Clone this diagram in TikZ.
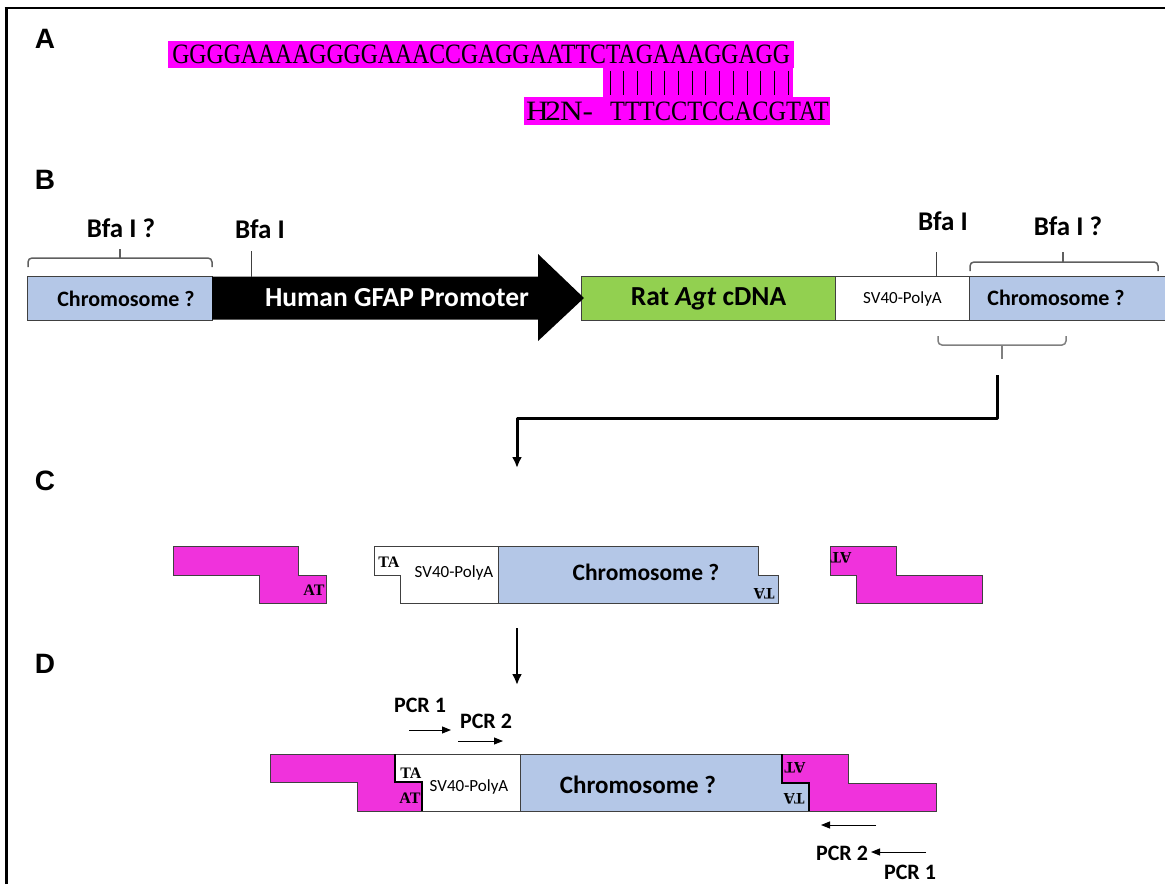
\documentclass[tikz,border=0pt]{standalone}
\usepackage{fontspec}
\newfontfamily\calib{Carlito}
\newfontfamily\arialf{Liberation Sans}
\newfontfamily\timesf{Liberation Serif}
\usetikzlibrary{arrows.meta}
\definecolor{magA}{RGB}{255,0,255}
\definecolor{magC}{RGB}{240,50,220}
\definecolor{chromblue}{RGB}{180,199,231}
\definecolor{agtgreen}{RGB}{146,208,80}
\definecolor{edge}{RGB}{64,64,64}
\definecolor{bracedark}{RGB}{95,95,95}
\definecolor{bracegray}{RGB}{128,128,128}
\begin{document}
\begin{tikzpicture}[x=1pt,y=-1pt,
  panel/.style={font=\arialf\bfseries\fontsize{28}{28}\selectfont, inner sep=0pt},
  seqtxt/.style={font=\timesf\fontsize{28}{28}\selectfont, inner sep=0pt},
  seqbg/.style={fill=magA, inner sep=0pt, anchor=north west},
  blk/.style={draw=edge, line width=1pt, inner sep=0pt, anchor=north west, minimum height=44pt},
  bigtxt/.style={font=\calib\bfseries\fontsize{27.5}{28}\selectfont},
  chromtxt/.style={font=\calib\bfseries\fontsize{22}{22}\selectfont},
  chromC/.style={font=\calib\bfseries\fontsize{23.5}{24}\selectfont, inner sep=0pt},
  chromD/.style={font=\calib\bfseries\fontsize{25}{25}\selectfont, inner sep=0pt},
  svtxt/.style={font=\calib\fontsize{17}{17}\selectfont, inner sep=0pt},
  bfatxt/.style={font=\calib\bfseries\fontsize{27}{27}\selectfont, inner sep=0pt},
  pcrtxt/.style={font=\calib\bfseries\fontsize{22}{22}\selectfont, inner sep=0pt},
  nt/.style={font=\timesf\bfseries\fontsize{16}{16}\selectfont, inner sep=0pt},
  brcst/.style={draw=#1, line width=1.5pt, rounded corners=4pt},
  piece/.style={draw=edge, line width=1pt, line join=miter},
  thickedge/.style={line width=2.2pt, line join=miter},
  conn/.style={line width=3pt, line join=round},
  pcrarr/.style={line width=1pt, -{Triangle[length=9pt,width=7pt]}},
  tick/.style={draw=edge, line width=1pt},
]
\useasboundingbox (0,0) rectangle (1165,884);
% frame
\draw[line width=3pt] (6,884) -- (6,8);
\draw[line width=2.5pt] (4.5,8) -- (1165,8);

% ---------- Panel A ----------
\node[panel] (lA) at (45,39) {A};
\node[seqbg, minimum width=626pt, minimum height=27pt] (seqtop) at (168,41) {};
\node[seqtxt] (seqtopt) at (seqtop.center) {\scalebox{0.8475}[1]{GGGGAAAAGGGGAAACCGAGGAATTCTAGAAAGGAGG}};
\node[seqbg, minimum width=190pt, minimum height=29pt] (bars) at (603,68) {};
\foreach \i in {0,...,13}{
  \draw[line width=1pt, black] (610+\i*13.7,71) -- (610+\i*13.7,95);
}
\node[seqbg, minimum width=306pt, minimum height=28pt] (seqbot) at (524,97) {};
\node[seqtxt, anchor=west] (h2n) at (526,111) {\scalebox{1.12}[1]{H\kern-3pt2\kern-1ptN-}};
\node[seqtxt, anchor=east] (seqbott) at (829,111) {\scalebox{0.87}[1]{TTTCCTCCACGTAT}};

% ---------- Panel B ----------
\node[panel] (lB) at (45,180) {B};
\node[blk, fill=chromblue, minimum width=185pt, chromtxt] (chL) at (27,276) {\hspace{12pt}Chromosome ?};
\node[blk, fill=agtgreen, minimum width=254pt, bigtxt] (agt) at (581,276) {Rat \textit{Agt} cDNA};
\node[blk, fill=white, minimum width=134pt, svtxt] (svB) at (835,276) {SV40-PolyA};
\node[blk, fill=chromblue, minimum width=200pt] (chR) at (969,276) {};
\node[chromtxt] (chRt) at (1056,298) {Chromosome ?};
\fill[black] (212,276.5) -- (538,276.5) -- (538,254) -- (584,298) -- (538,341) -- (538,319.5) -- (212,319.5) -- cycle;
\node[bigtxt, text=white] (gfap) at (397,298) {Human GFAP Promoter};

\node[bfatxt] (bfaL) at (121,228) {Bfa I ?};
\node[bfatxt] (bfa1) at (260,229) {Bfa I};
\node[bfatxt] (bfa2) at (943,221) {Bfa I};
\node[bfatxt] (bfaR) at (1068,226) {Bfa I ?};
\draw[tick] (251,251) -- (251,277);
\draw[tick] (936,252) -- (936,276);
% braces
\draw[brcst=bracedark] (28,267) -- (28,258) -- (212,258) -- (212,267);
\draw[draw=bracedark, line width=1.5pt] (120,258) -- (120,249);
\draw[brcst=bracedark] (970,271) -- (970,262) -- (1158,262) -- (1158,271);
\draw[draw=bracedark, line width=1.5pt] (1063,262) -- (1063,252);
\draw[brcst=bracegray] (938,336) -- (938,345) -- (1066,345) -- (1066,336);
\draw[draw=bracegray, line width=1.5pt] (1002,345) -- (1002,359);

\coordinate (cstart) at (997,375);
\coordinate (cend) at (517,468);
\draw[conn, -{Latex[length=11pt,width=10pt]}] (cstart) -- ++(0,43) -| (cend);

% ---------- Panel C ----------
\node[panel] (lC) at (45,481) {C};
\draw[piece, fill=magC] (173,546) -- (298,546) -- (298,575) -- (326,575) -- (326,603) -- (259,603) -- (259,575) -- (173,575) -- cycle;
\node[nt] (cAT1) at (314,590) {AT};
\draw[piece, fill=white] (374,546) -- (498,546) -- (498,603) -- (400,603) -- (400,575) -- (374,575) -- cycle;
\draw[piece, fill=chromblue] (498,546) -- (758,546) -- (758,575) -- (778,575) -- (778,603) -- (498,603) -- cycle;
\node[nt] (cTA1) at (389,562) {TA};
\node[svtxt] (svC) at (454,573) {SV40-PolyA};
\node[chromC] (chC) at (646,572) {Chromosome ?};
\node[nt, rotate=180] (cTA2) at (764,594) {TA};
\draw[piece, fill=magC] (830,546) -- (896,546) -- (896,575) -- (982,575) -- (982,603) -- (856,603) -- (856,575) -- (830,575) -- cycle;
\node[nt, rotate=180] (cAT2) at (841,558) {AT};

\coordinate (c2d1) at (517,628);
\coordinate (c2d2) at (517,685);
\draw[line width=2.2pt, -{Latex[length=11pt,width=10pt]}] (c2d1) -- (c2d2);

% ---------- Panel D ----------
\node[panel] (lD) at (45,664) {D};
\draw[piece, fill=magC] (270,754) -- (395,754) -- (395,782) -- (422,782) -- (422,811) -- (357,811) -- (357,782) -- (270,782) -- cycle;
\draw[piece, fill=white] (395,754) -- (520,754) -- (520,811) -- (422,811) -- (422,782) -- (395,782) -- cycle;
\draw[piece, fill=chromblue] (520,754) -- (782,754) -- (782,783) -- (809,783) -- (809,811) -- (520,811) -- cycle;
\draw[piece, fill=magC] (782,754) -- (848,754) -- (848,783) -- (936,783) -- (936,811) -- (809,811) -- (809,783) -- (782,783) -- cycle;
\draw[thickedge] (395,754) -- (395,782) -- (422,782) -- (422,811);
\draw[thickedge] (782,754) -- (782,783) -- (809,783) -- (809,811);
\node[nt] (dTA1) at (411,773) {TA};
\node[nt] (dAT1) at (410,798) {AT};
\node[svtxt] (svD) at (469,787) {SV40-PolyA};
\node[chromD] (chD) at (638,785) {Chromosome ?};
\node[nt, rotate=180] (dAT2) at (795,768) {AT};
\node[nt, rotate=180] (dTA2) at (794,799) {TA};

\node[pcrtxt] (p1L) at (420,705) {PCR 1};
\node[pcrtxt] (p2L) at (486,721) {PCR 2};
\coordinate (a1s) at (409,730); \coordinate (a1e) at (451,730);
\coordinate (a2s) at (458,741); \coordinate (a2e) at (503,741);
\draw[pcrarr] (a1s) -- (a1e);
\draw[pcrarr] (a2s) -- (a2e);
\coordinate (a3s) at (876,825); \coordinate (a3e) at (821,825);
\coordinate (a4s) at (926,852); \coordinate (a4e) at (871,852);
\draw[pcrarr] (a3s) -- (a3e);
\draw[pcrarr] (a4s) -- (a4e);
\node[pcrtxt] (p2R) at (842,853) {PCR 2};
\node[pcrtxt] (p1R) at (910,872) {PCR 1};
\end{tikzpicture}
\end{document}
